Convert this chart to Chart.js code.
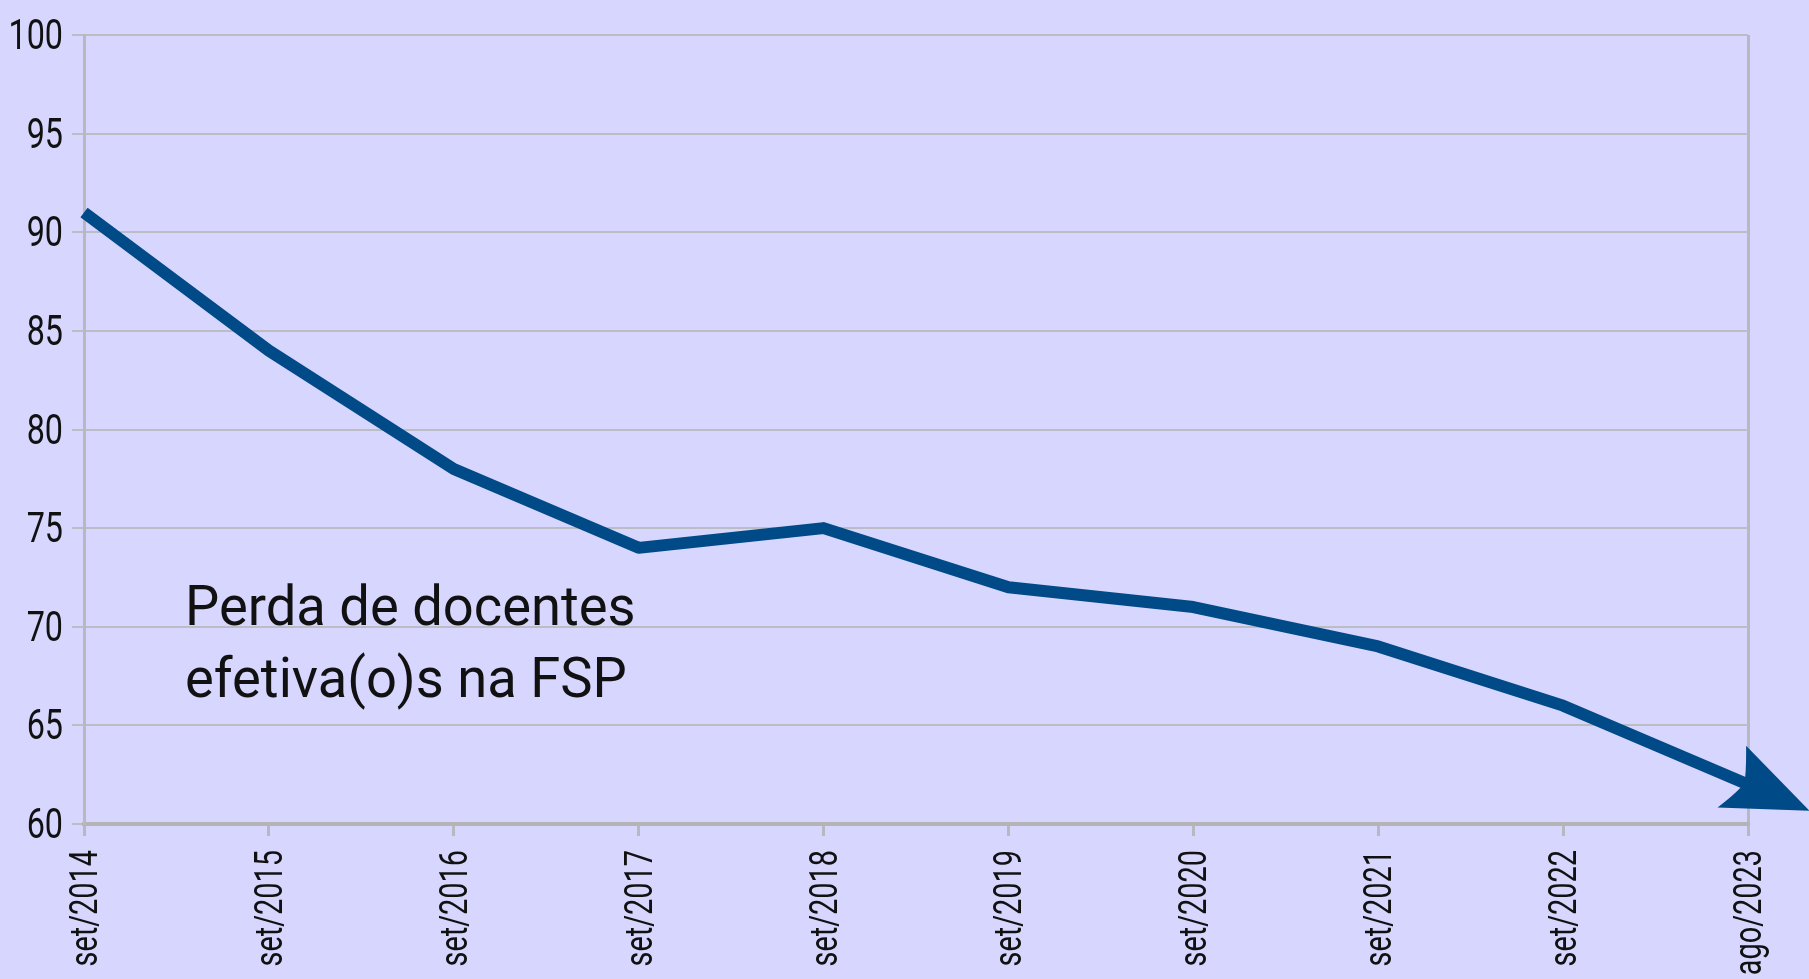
<!DOCTYPE html>
<html>
<head>
<meta charset="utf-8">
<script src="https://cdn.jsdelivr.net/npm/chart.js@4.4.1/dist/chart.umd.min.js"></script>
<style>
html,body{margin:0;padding:0;background:#d6d6fe;}
#wrap{width:1809px;height:979px;position:relative;}
</style>
</head>
<body>
<div id="wrap"><canvas id="c" width="1809" height="979"></canvas></div>
<script>
const categories = ["set/2014","set/2015","set/2016","set/2017","set/2018","set/2019","set/2020","set/2021","set/2022","ago/2023"];
const docentes = [91, 84, 78, 74, 75, 72, 71, 69, 66, 62];
const yTicks = [60, 65, 70, 75, 80, 85, 90, 95, 100];
const annotationLines = ["Perda de docentes", "efetiva(o)s na FSP"];

const FONT = "Roboto, 'Liberation Sans', sans-serif";
const LINE_COLOR = '#004a87';
const GRID = '#bcbcc4';
const TEXT = '#111';

function condensedText(ctx, text, x, y, sx, align) {
  ctx.save();
  ctx.translate(x, y);
  ctx.scale(sx, 1);
  ctx.textAlign = align;
  ctx.fillText(text, 0, 0);
  ctx.restore();
}

const drawPlugin = {
  id: 'arrowAndText',
  afterDraw(chart) {
    const ctx = chart.ctx;
    const xs = chart.scales.x, ys = chart.scales.y;

    // y tick labels
    ctx.save();
    ctx.fillStyle = TEXT;
    ctx.font = "42px " + FONT;
    ctx.textBaseline = 'alphabetic';
    ys.ticks.forEach((t, i) => {
      const py = ys.getPixelForTick(i);
      condensedText(ctx, String(t.value), xs.left - 21, py + 14, 0.77, 'right');
    });
    ctx.restore();

    // x tick labels (rotated)
    ctx.save();
    ctx.fillStyle = TEXT;
    ctx.font = "38px " + FONT;
    ctx.textBaseline = 'alphabetic';
    xs.ticks.forEach((t, i) => {
      const px = xs.getPixelForTick(i);
      ctx.save();
      ctx.translate(px + 13, ys.bottom + 26);
      ctx.rotate(-Math.PI / 2);
      ctx.scale(0.76, 1);
      ctx.textAlign = 'right';
      ctx.fillText(categories[i], 0, 0);
      ctx.restore();
    });
    ctx.restore();

    // arrow head
    const pts = chart.getDatasetMeta(0).data;
    const a = pts[pts.length - 2], b = pts[pts.length - 1];
    const dx = b.x - a.x, dy = b.y - a.y;
    const len = Math.hypot(dx, dy);
    const ux = dx / len, uy = dy / len;
    const nx = -uy, ny = ux;
    const P = (al, nr) => [b.x + ux * al + nx * nr, b.y + uy * al + ny * nr];
    ctx.save();
    ctx.fillStyle = LINE_COLOR;
    ctx.beginPath();
    let p = P(67, 0); ctx.moveTo(p[0], p[1]);
    p = P(-17, -35); ctx.lineTo(p[0], p[1]);
    p = P(-6, -10); ctx.quadraticCurveTo(p[0], p[1], ...P(-4, 0));
    p = P(-6, 10); ctx.quadraticCurveTo(p[0], p[1], ...P(-19, 33));
    ctx.closePath();
    ctx.fill();
    ctx.restore();

    // annotation text
    ctx.save();
    ctx.fillStyle = TEXT;
    ctx.font = "56px " + FONT;
    ctx.textBaseline = 'alphabetic';
    const x0 = xs.left + 101;
    const y70 = ys.getPixelForValue(70);
    condensedText(ctx, annotationLines[0], x0, y70 - 2, 0.97, 'left');
    condensedText(ctx, annotationLines[1], x0, y70 + 70, 0.97, 'left');
    ctx.restore();
  }
};

new Chart(document.getElementById('c'), {
  type: 'line',
  data: {
    labels: categories,
    datasets: [{
      data: docentes,
      borderColor: LINE_COLOR,
      borderWidth: 12,
      pointRadius: 0,
      tension: 0,
      fill: false,
      borderCapStyle: 'butt',
      borderJoinStyle: 'round'
    }]
  },
  plugins: [drawPlugin],
  options: {
    responsive: false,
    animation: false,
    layout: { padding: { top: 35, right: 61, left: 0, bottom: 0 } },
    plugins: { legend: { display: false }, tooltip: { enabled: false } },
    scales: {
      x: {
        type: 'category',
        offset: false,
        border: { display: true, color: '#b4b4b4', width: 4 },
        grid: {
          drawOnChartArea: true,
          drawTicks: true,
          tickLength: 12,
          lineWidth: 3,
          color: (c) => c.index === categories.length - 1 ? '#b8b8c0' : 'rgba(0,0,0,0)',
          tickColor: '#b8b8c0',
          tickWidth: 3
        },
        ticks: { display: false, autoSkip: false },
        afterFit(s) { s.height = 155; }
      },
      y: {
        min: 60,
        max: 100,
        afterBuildTicks(s) { s.ticks = yTicks.map(v => ({ value: v })); },
        border: { display: true, color: '#b8b8c0', width: 3 },
        grid: {
          color: GRID,
          lineWidth: 2,
          tickLength: 12,
          drawTicks: true
        },
        ticks: { display: false },
        afterFit(s) { s.width = 84; }
      }
    }
  }
});
</script>
</body>
</html>
